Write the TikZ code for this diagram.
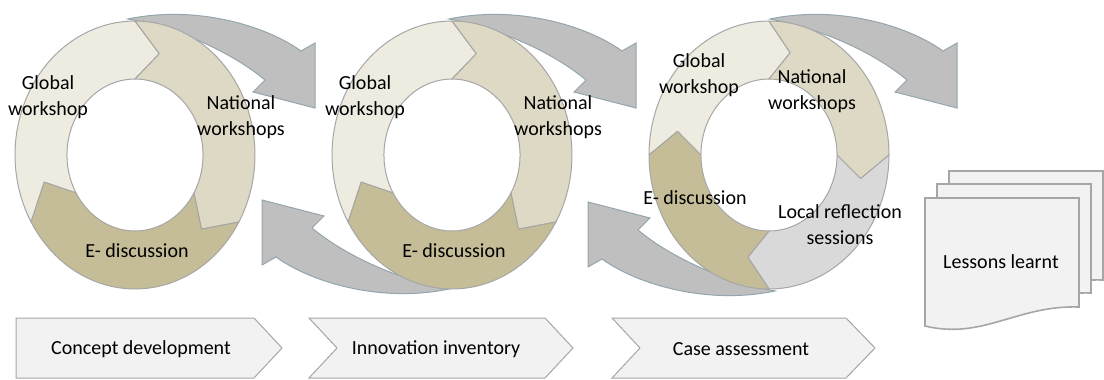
\documentclass[tikz,border=0pt]{standalone}
\usepackage{fontspec}
\setmainfont{Carlito}
\definecolor{cGlobal}{HTML}{EEECE1}
\definecolor{cNational}{HTML}{DDD9C4}
\definecolor{cEdisc}{HTML}{C4BD97}
\definecolor{cLocal}{HTML}{D9D9D9}
\definecolor{cRing}{HTML}{A6A6A6}
\definecolor{cArrow}{HTML}{BFBFBF}
\definecolor{cArrowLine}{HTML}{93A5AD}
\definecolor{cBox}{HTML}{F2F2F2}
\definecolor{cBoxLine}{HTML}{A6A6A6}
\def\rgRX{120}\def\rgRY{134}\def\rgRM{0.783}\def\rgRI{0.567}
\newcommand\ringseg[6]{%
  \filldraw[ringsegsty, fill=#5]
    plot[domain=#3:#4, samples=40, variable=\t] ({#1+\rgRX*cos(\t)},{#2-\rgRY*sin(\t)})
    -- ({#1+\rgRM*\rgRX*cos(#4-#6)},{#2-\rgRM*\rgRY*sin(#4-#6)})
    -- ({#1+\rgRI*\rgRX*cos(#4)},{#2-\rgRI*\rgRY*sin(#4)})
    -- plot[domain=#4:#3, samples=40, variable=\t] ({#1+\rgRI*\rgRX*cos(\t)},{#2-\rgRI*\rgRY*sin(\t)})
    -- ({#1+\rgRM*\rgRX*cos(#3-#6)},{#2-\rgRM*\rgRY*sin(#3-#6)})
    -- cycle;}
\tikzset{
  ringsegsty/.style={draw=cRing, line width=1pt, line join=round},
  circarrow/.style={fill=cArrow, draw=cArrowLine, line width=1pt, line join=miter},
  lbl/.style={font=\fontsize{20}{26}\selectfont, align=center, inner sep=0pt, text=black},
  stepshape/.style={fill=cBox, draw=cBoxLine, line width=1pt, line join=miter},
  docshape/.style={fill=cBox, draw=cBoxLine, line width=1.6pt, line join=miter},
  toparr/.pic={\path[circarrow] (128,19) .. controls (195,5) and (265,25) .. (301,51) -- (315,43) -- (315,108) -- (253,92) -- (265,80) .. controls (235,55) and (185,30) .. (128,19) -- cycle;},
  docpic/.pic={\path[docshape] (0,0) -- (154,0) -- (154,109) .. controls (92,107) and (58,142) .. (0,128) -- cycle;}
}
\begin{document}
\begin{tikzpicture}[x=1pt,y=-1pt]
\useasboundingbox (0,0) rectangle (1104,380);
% circular connecting arrows
\pic at (0,0) {toparr};
\pic at (321,0) {toparr};
\pic at (642,0) {toparr};
\begin{scope}[rotate around={180:(288.5,154)}]\pic[transform shape] at (0,0) {toparr};\end{scope}
\begin{scope}[rotate around={180:(451.5,155)}]\pic[transform shape] at (0,0) {toparr};\end{scope}
% ring 1
\ringseg{135}{155}{210}{90}{cGlobal}{15}
\ringseg{135}{155}{90}{-30}{cNational}{15}
\ringseg{135}{155}{-30}{-150}{cEdisc}{15}
% ring 2
\ringseg{452}{155}{210}{90}{cGlobal}{15}
\ringseg{452}{155}{90}{-30}{cNational}{15}
\ringseg{452}{155}{-30}{-150}{cEdisc}{15}
% ring 3
\ringseg{769}{155}{180}{90}{cGlobal}{13}
\ringseg{769}{155}{90}{0}{cNational}{13}
\ringseg{769}{155}{0}{-90}{cLocal}{13}
\ringseg{769}{155}{-90}{-180}{cEdisc}{13}
% labels
\node[lbl] (g1) at (48,97) {Global\\workshop};
\node[lbl] (n1) at (241,117) {National\\workshops};
\node[lbl] (e1) at (137,251) {E- discussion};
\node[lbl] (g2) at (365,97) {Global\\workshop};
\node[lbl] (n2) at (558,117) {National\\workshops};
\node[lbl] (e2) at (454,251) {E- discussion};
\node[lbl] (g3) at (699,75) {Global\\workshop};
\node[lbl] (n3) at (812,91) {National\\workshops};
\node[lbl] (e3) at (695,198) {E- discussion};
\node[lbl] (l3) at (840,225) {Local reflection\\sessions};
% process chevrons
\path[stepshape] (16,318) -- (254,318) -- (282,348) -- (254,378) -- (16,378) -- cycle;
\path[stepshape] (309,318) -- (545,318) -- (573,348) -- (545,378) -- (309,378) -- (337,348) -- cycle;
\path[stepshape] (612,318) -- (846,318) -- (875,348) -- (846,378) -- (612,378) -- (640,348) -- cycle;
\node[lbl] (s1) at (141,349) {Concept development};
\node[lbl] (s2) at (436,349) {Innovation inventory};
\node[lbl] (s3) at (741,349) {Case assessment};
% lessons learnt documents
\pic at (949,171) {docpic};
\pic at (937,184) {docpic};
\pic at (925,198) {docpic};
\node[lbl] (ll) at (1001,262) {Lessons learnt};
\end{tikzpicture}
\end{document}
